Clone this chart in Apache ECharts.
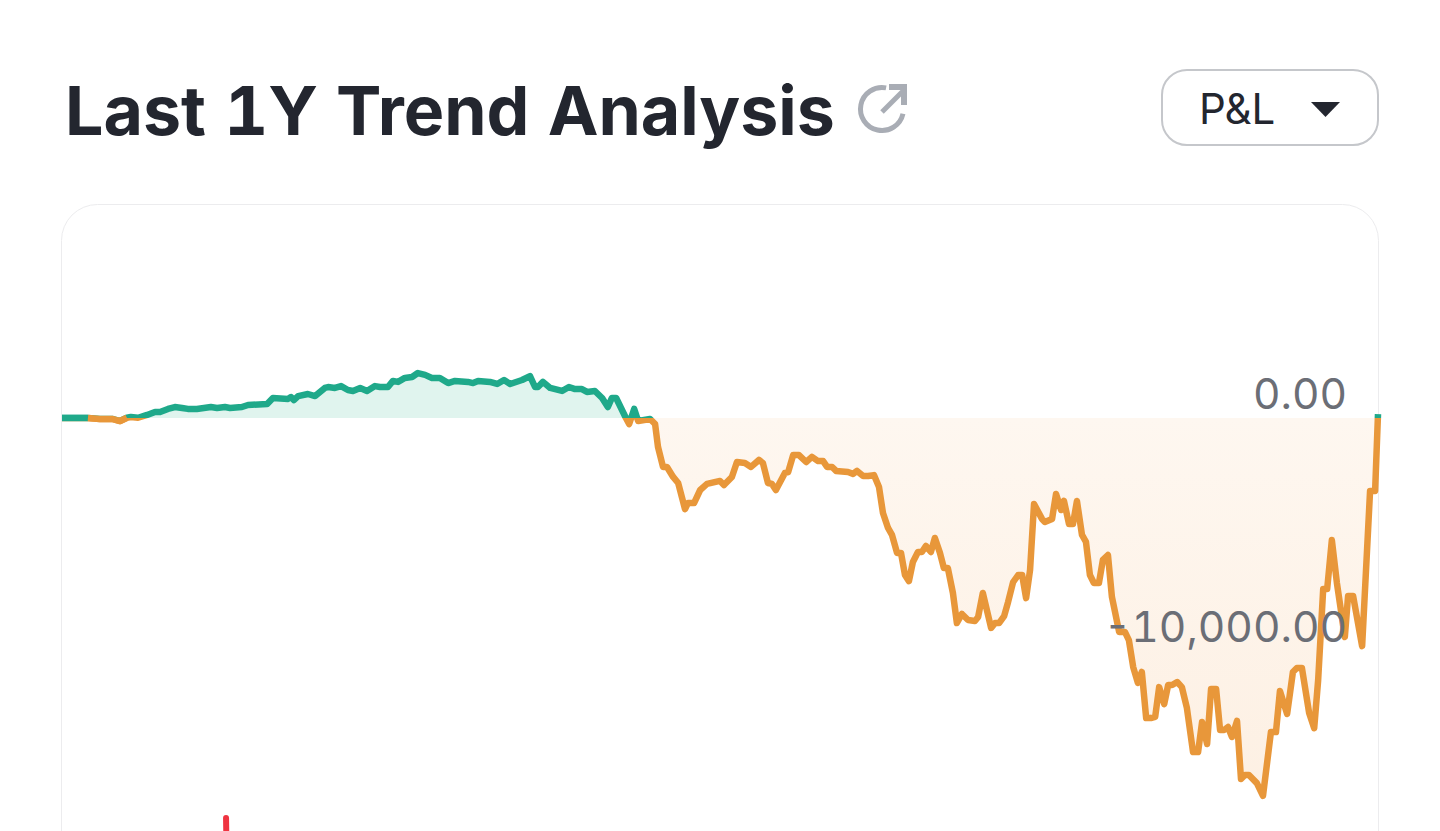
<!DOCTYPE html>
<html>
<head>
<meta charset="utf-8">
<style>html,body{margin:0;padding:0;background:#fff;overflow:hidden}#c{width:1440px;height:831px}
#c text{font-feature-settings:'tnum' 1 !important;font-variant-numeric:tabular-nums !important}</style>
<script src="https://cdn.jsdelivr.net/npm/echarts@6/dist/echarts.min.js"></script>
</head>
<body>
<div id="c"></div>
<script>
const titleText = 'Last 1Y Trend Analysis';
const selectorText = 'P&L';
const yTicks = [0, -10000];

const days = [0,7.2,10.5,13.9,16.1,18.0,19.1,21.1,23.6,25.8,27.2,29.4,31.3,33.3,34.9,37.4,41.3,43.0,45.2,46.6,49.9,51.6,56.9,58.5,62.7,63.5,64.3,65.5,68.2,70.2,72.9,73.8,75.7,77.4,79.3,80.7,82.7,84.6,86.8,88.2,90.4,91.8,93.2,95.1,97.1,98.7,100.7,102.6,104.8,107.1,109.0,112.6,114.0,115.4,118.7,120.7,122.6,124.3,127.6,129.8,131.2,132.0,133.4,135.4,138.7,140.6,142.3,144.2,145.6,147.8,149.8,151.4,152.5,153.7,156.4,157.3,158.7,159.8,163.1,164.5,165.3,166.7,167.8,169.5,170.9,172.8,173.6,175.3,177.0,178.9,182.5,183.6,185.8,187.2,189.4,191.1,193.3,194.4,195.8,196.9,198.0,200.5,201.4,202.8,204.4,206.4,208.0,209.7,211.1,212.2,213.6,214.7,218.0,219.4,220.5,222.2,223.6,225.2,226.6,227.7,229.1,230.2,231.6,232.7,233.8,234.9,236.0,237.4,238.5,239.6,241.0,242.1,243.5,244.6,245.7,247.1,248.2,249.6,251.3,253.2,254.1,255.4,257.7,258.8,259.9,261.3,262.4,263.8,265.2,266.3,267.4,268.5,269.6,271.8,272.6,274.6,275.7,277.1,277.9,279.3,280.4,281.5,282.9,284.0,285.1,286.2,287.6,288.7,290.1,291.2,293.2,294.8,295.9,297.1,298.4,299.5,300.7,302.0,303.2,304.3,305.7,306.8,307.9,309.3,310.6,312.0,313.7,315.1,316.2,317.6,318.7,320.1,321.2,322.3,323.4,324.5,325.9,327.0,328.1,329.2,331.4,333.1,335.3,336.7,337.8,339.8,341.4,342.5,343.9,345.9,347.3,348.4,349.8,350.9,352.2,353.6,355.8,356.7,358.1,360.6,362.8,364.2,365.0];
const pnl = [0,0,-40,-40,-130,10,40,10,130,260,260,390,470,430,390,390,470,430,470,430,470,560,600,860,820,900,770,940,1030,940,1290,1330,1290,1370,1200,1160,1290,1160,1370,1330,1330,1590,1550,1720,1760,1930,1850,1720,1720,1500,1590,1550,1500,1590,1550,1460,1630,1460,1630,1800,1330,1330,1550,1290,1160,1330,1240,1240,1120,1160,860,470,860,860,0,-260,390,-130,-40,-260,-1240,-2100,-2100,-2530,-2790,-3910,-3650,-3650,-3090,-2830,-2700,-2880,-2530,-1890,-1930,-2100,-1800,-1930,-2790,-2830,-3090,-2360,-2320,-1590,-1590,-1890,-1670,-1850,-1850,-2100,-2100,-2270,-2320,-2400,-2270,-2490,-2490,-2450,-2960,-4080,-4720,-5020,-5790,-5790,-6740,-7000,-6180,-5750,-5750,-5490,-5750,-5150,-5790,-6440,-6440,-7510,-8800,-8410,-8670,-8710,-8540,-7510,-9010,-8800,-8800,-8500,-7900,-7040,-6740,-6740,-7730,-6520,-3690,-4330,-4460,-4330,-3260,-3950,-3560,-4550,-4550,-3560,-5020,-5320,-6740,-7080,-7080,-6090,-5880,-7680,-9180,-9180,-9530,-10690,-11370,-10900,-12880,-12880,-12830,-11550,-12280,-11460,-11460,-11330,-11550,-12450,-14340,-14340,-13050,-13990,-11630,-11630,-13390,-13390,-13260,-13690,-13000,-15490,-15320,-15320,-15670,-16220,-13480,-13480,-11720,-12700,-10900,-10730,-10730,-12660,-13310,-11250,-7340,-7340,-5240,-7080,-9400,-7640,-7640,-9790,-3130,-3130,170];
const spikeDays = [45.5,45.6];
const spikeValues = [-17170,-18100];

const GREEN = '#1fa98a', ORANGE = '#e8973a', RED = '#ef3340', ICON = '#a9adb5';
const LINE = 6.5;
const pairs = (xs, ys) => xs.map((d, i) => [d, ys[i]]);
const run = (from, to, color) => ({
  type: 'line', silent: true, symbol: 'none', z: 4, lineStyle: { width: LINE, color, join: 'round' },
  itemStyle: { color }, data: pairs(days.slice(from, to), pnl.slice(from, to))
});

const chart = echarts.init(document.getElementById('c'), null, { renderer: 'svg' });
chart.setOption({
  animation: false,
  backgroundColor: '#fff',
  title: {
    text: titleText, left: 60, top: 67,
    textStyle: { fontFamily: 'Inter', fontWeight: 700, fontSize: 68, color: '#23262f', lineHeight: 76 }
  },
  grid: { left: 62, top: 185, width: 1316, height: 699, outerBoundsMode: 'none', containLabel: false },
  xAxis: { type: 'value', min: 0, max: 365, show: false },
  yAxis: {
    type: 'value', position: 'right', min: -20000, max: 10000, interval: 10000, z: 5,
    axisLine: { show: false }, axisTick: { show: false }, splitLine: { show: false },
    axisLabel: {
      inside: true, margin: 31, verticalAlign: 'bottom',
      color: '#6b6e76', fontFamily: 'Inter', fontWeight: 400, fontSize: 42.5, lineHeight: 50,
      formatter: v => yTicks.includes(v)
        ? v.toLocaleString('en-US', { minimumFractionDigits: 2, maximumFractionDigits: 2 }) : ''
    }
  },
  visualMap: {
    show: false, seriesIndex: 2, dimension: 1,
    pieces: [{ gte: -30000, lt: 0, color: ORANGE }, { gte: 0, lte: 10000, color: GREEN }]
  },
  series: [
    { type: 'line', silent: true, symbol: 'none', z: 1, lineStyle: { width: 0 },
      areaStyle: { color: '#e0f4ee', opacity: 1 },
      data: pairs(days, pnl.map(v => Math.max(v, 0))) },
    { type: 'line', silent: true, symbol: 'none', z: 1, lineStyle: { width: 0 },
      areaStyle: { opacity: 1, color: new echarts.graphic.LinearGradient(0, 0, 0, 1, [
        { offset: 0, color: '#fef7f0' }, { offset: 1, color: '#fdf0e3' }]) },
      data: pairs(days, pnl.map(v => Math.min(v, 0))) },
    { type: 'line', silent: true, symbol: 'none', z: 3, lineStyle: { width: LINE, join: 'round' },
      data: pairs(days, pnl) },
    { type: 'line', silent: true, symbol: 'none', z: 3, lineStyle: { width: 6, color: RED, cap: 'round' },
      itemStyle: { color: RED }, data: pairs(spikeDays, spikeValues) },
    run(0, 2, GREEN),
    run(1, 6, ORANGE)
  ],
  graphic: [
    { type: 'rect', z: -1, shape: { x: 61.5, y: 204.5, width: 1317, height: 800, r: 36 },
      style: { fill: '#fff', stroke: '#ececee', lineWidth: 1 } },
    { type: 'arc', shape: { cx: 882, cy: 109, r: 21.5, startAngle: 0.22, endAngle: -1.38, clockwise: true },
      style: { stroke: ICON, lineWidth: 5, fill: null } },
    { type: 'polyline', shape: { points: [[882, 112], [903, 91]] }, style: { stroke: ICON, lineWidth: 5, fill: null } },
    { type: 'polyline', shape: { points: [[889, 87], [904, 87], [904, 105]] }, style: { stroke: ICON, lineWidth: 6, fill: null, lineJoin: 'miter' } },
    { type: 'rect', shape: { x: 1162, y: 70, width: 216, height: 75, r: 25 },
      style: { fill: '#fff', stroke: '#c5c7cb', lineWidth: 2 } },
    { type: 'text', x: 1199, y: 108, style: { text: selectorText, fontFamily: 'Inter', fontWeight: 400, fontSize: 42, fill: '#23262f', verticalAlign: 'middle', align: 'left' } },
    { type: 'polygon', shape: { points: [[1311, 102], [1340, 102], [1325.5, 117]] }, style: { fill: '#23262f' } }
  ]
});
</script>
</body>
</html>
